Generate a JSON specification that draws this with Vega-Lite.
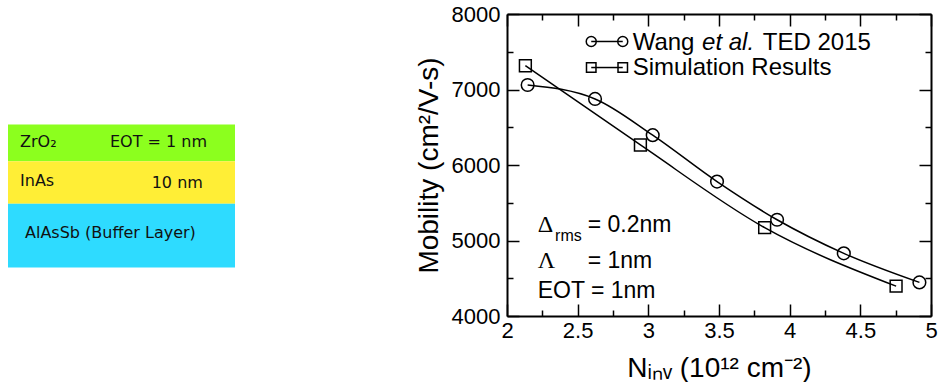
{
  "$schema": "https://vega.github.io/schema/vega-lite/v6.json",
  "background": "white",
  "padding": {"left": 8, "top": 3, "right": 5, "bottom": 0},
  "config": {"view": {"stroke": null}, "font": "Liberation Sans"},
  "datasets": {
    "layers": [
      {"layer": "ZrO2", "y0": 0, "y1": 25.7},
      {"layer": "InAs", "y0": 25.7, "y1": 55.5},
      {"layer": "AlAsSb", "y0": 55.5, "y1": 100}
    ],
    "layerText": [
      {"label": "ZrO₂", "x": 5.3, "y": 15.4},
      {"label": "EOT = 1 nm", "x": 44.9, "y": 15.4},
      {"label": "InAs", "x": 5.3, "y": 42.7},
      {"label": "10 nm", "x": 63.3, "y": 44.1},
      {"label": "AlAsSb (Buffer Layer)", "x": 7.5, "y": 79.7}
    ],
    "wang": [
      {"n": 2.146, "mu": 7060},
      {"n": 2.623, "mu": 6875},
      {"n": 3.031, "mu": 6395},
      {"n": 3.486, "mu": 5780},
      {"n": 3.911, "mu": 5275},
      {"n": 4.383, "mu": 4830},
      {"n": 4.918, "mu": 4445}
    ],
    "sim": [
      {"n": 2.13, "mu": 7315},
      {"n": 2.944, "mu": 6265},
      {"n": 3.823, "mu": 5170},
      {"n": 4.753, "mu": 4395}
    ],
    "legendWang": [
      {"n": 2.596, "mu": 7636},
      {"n": 2.819, "mu": 7636}
    ],
    "legendSim": [
      {"n": 2.596, "mu": 7291},
      {"n": 2.819, "mu": 7291}
    ],
    "legendText": [
      {"label": "Wang", "n": 2.889, "mu": 7523},
      {"label": "TED 2015", "n": 3.81, "mu": 7523},
      {"label": "Simulation Results", "n": 2.889, "mu": 7192}
    ],
    "legendItalic": [
      {"label": "et al.", "n": 3.38, "mu": 7523}
    ],
    "annot": [
      {"label": "= 0.2nm", "n": 2.571, "mu": 5117},
      {"label": "= 1nm", "n": 2.571, "mu": 4640},
      {"label": "EOT = 1nm", "n": 2.217, "mu": 4242}
    ],
    "greek": [
      {"label": "Δ", "n": 2.217, "mu": 5117},
      {"label": "Λ", "n": 2.217, "mu": 4640}
    ],
    "sub": [
      {"label": "rms", "n": 2.34, "mu": 4997}
    ]
  },
  "hconcat": [
    {
      "width": 227,
      "height": 147,
      "layer": [
        {
          "data": {"name": "layers"},
          "mark": {"type": "rect"},
          "encoding": {
            "x": {"datum": 0, "type": "quantitative", "scale": {"domain": [0, 100], "nice": false, "zero": false}, "axis": null},
            "x2": {"datum": 100},
            "y": {"field": "y0", "type": "quantitative", "scale": {"domain": [0, 102.8], "reverse": true, "nice": false, "zero": false}, "axis": null},
            "y2": {"field": "y1"},
            "color": {"field": "layer", "type": "nominal", "scale": {"domain": ["ZrO2", "InAs", "AlAsSb"], "range": ["#8CFF1E", "#FFEE36", "#2EDBFF"]}, "legend": null}
          }
        },
        {
          "data": {"name": "layerText"},
          "mark": {"type": "text", "align": "left", "baseline": "alphabetic", "font": "DejaVu Sans", "fontSize": 16, "color": "#111111"},
          "encoding": {
            "x": {"field": "x", "type": "quantitative"},
            "y": {"field": "y", "type": "quantitative"},
            "text": {"field": "label"}
          }
        }
      ]
    },
    {
      "width": 424,
      "height": 302,
      "resolve": {"axis": {"x": "independent", "y": "independent"}},
      "layer": [
        {
          "data": {"name": "wang"},
          "mark": {"type": "line", "interpolate": "monotone", "color": "black", "strokeWidth": 1.5},
          "encoding": {
            "x": {
              "field": "n", "type": "quantitative",
              "scale": {"domain": [2, 5], "nice": false, "zero": false},
              "axis": {
                "orient": "bottom", "values": [2, 2.5, 3, 3.5, 4, 4.5, 5],
                "tickSize": -12, "tickWidth": 1.5, "tickColor": "black",
                "domain": true, "domainColor": "black", "domainWidth": 2,
                "grid": false, "labelFlush": false, "labelOverlap": false,
                "labelPadding": 16, "labelFontSize": 22, "labelColor": "black", "labelFont": "Liberation Sans",
                "labelExpr": "datum.value",
                "title": "Nᵢₙᵥ (10¹² cm⁻²)", "titleFontSize": 28, "titleFontWeight": "normal", "titleColor": "black", "titleFont": "Liberation Sans", "titlePadding": 13
              }
            },
            "y": {
              "field": "mu", "type": "quantitative",
              "scale": {"domain": [4000, 8000], "nice": false, "zero": false},
              "axis": {
                "orient": "left", "values": [4000, 5000, 6000, 7000, 8000],
                "tickSize": -12, "tickWidth": 1.5, "tickColor": "black",
                "domain": true, "domainColor": "black", "domainWidth": 2,
                "grid": false, "labelFlush": false, "labelOverlap": false,
                "labelPadding": 19, "labelFontSize": 22, "labelColor": "black", "labelFont": "Liberation Sans",
                "labelExpr": "datum.value",
                "title": "Mobility (cm²/V-s)", "titleFontSize": 28, "titleFontWeight": "normal", "titleColor": "black", "titleFont": "Liberation Sans", "titlePadding": 8
              }
            }
          }
        },
        {
          "data": {"name": "wang"},
          "mark": {"type": "point", "shape": "circle", "size": 160, "filled": false, "color": "black", "strokeWidth": 1.5, "opacity": 1},
          "encoding": {
            "x": {"field": "n", "type": "quantitative", "axis": {"orient": "bottom", "values": [2.25, 2.75, 3.25, 3.75, 4.25, 4.75], "tickSize": -6, "tickWidth": 1.5, "tickColor": "black", "domain": false, "grid": false, "labels": false, "title": null}},
            "y": {"field": "mu", "type": "quantitative", "axis": {"orient": "left", "values": [4500, 5500, 6500, 7500], "tickSize": -6, "tickWidth": 1.5, "tickColor": "black", "domain": false, "grid": false, "labels": false, "title": null}}
          }
        },
        {
          "data": {"name": "sim"},
          "mark": {"type": "line", "interpolate": "monotone", "color": "black", "strokeWidth": 1.5},
          "encoding": {
            "x": {"field": "n", "type": "quantitative", "axis": {"orient": "top", "values": [2, 2.5, 3, 3.5, 4, 4.5, 5], "tickSize": -12, "tickWidth": 1.5, "tickColor": "black", "domain": true, "domainColor": "black", "domainWidth": 2, "grid": false, "labels": false, "title": null}},
            "y": {"field": "mu", "type": "quantitative", "axis": {"orient": "right", "values": [4000, 5000, 6000, 7000, 8000], "tickSize": -12, "tickWidth": 1.5, "tickColor": "black", "domain": true, "domainColor": "black", "domainWidth": 2, "grid": false, "labels": false, "title": null}}
          }
        },
        {
          "data": {"name": "sim"},
          "mark": {"type": "point", "shape": "square", "size": 140, "filled": false, "color": "black", "strokeWidth": 1.5, "opacity": 1},
          "encoding": {
            "x": {"field": "n", "type": "quantitative", "axis": {"orient": "top", "values": [2.25, 2.75, 3.25, 3.75, 4.25, 4.75], "tickSize": -6, "tickWidth": 1.5, "tickColor": "black", "domain": false, "grid": false, "labels": false, "title": null}},
            "y": {"field": "mu", "type": "quantitative", "axis": {"orient": "right", "values": [4500, 5500, 6500, 7500], "tickSize": -6, "tickWidth": 1.5, "tickColor": "black", "domain": false, "grid": false, "labels": false, "title": null}}
          }
        },
        {
          "data": {"name": "legendWang"},
          "mark": {"type": "line", "color": "black", "strokeWidth": 1.5},
          "encoding": {
            "x": {"field": "n", "type": "quantitative", "axis": null},
            "y": {"field": "mu", "type": "quantitative", "axis": null}
          }
        },
        {
          "data": {"name": "legendWang"},
          "mark": {"type": "point", "shape": "circle", "size": 100, "filled": false, "color": "black", "strokeWidth": 1.5, "opacity": 1},
          "encoding": {
            "x": {"field": "n", "type": "quantitative", "axis": null},
            "y": {"field": "mu", "type": "quantitative", "axis": null}
          }
        },
        {
          "data": {"name": "legendSim"},
          "mark": {"type": "line", "color": "black", "strokeWidth": 1.5},
          "encoding": {
            "x": {"field": "n", "type": "quantitative", "axis": null},
            "y": {"field": "mu", "type": "quantitative", "axis": null}
          }
        },
        {
          "data": {"name": "legendSim"},
          "mark": {"type": "point", "shape": "square", "size": 90, "filled": false, "color": "black", "strokeWidth": 1.5, "opacity": 1},
          "encoding": {
            "x": {"field": "n", "type": "quantitative", "axis": null},
            "y": {"field": "mu", "type": "quantitative", "axis": null}
          }
        },
        {
          "data": {"name": "legendText"},
          "mark": {"type": "text", "align": "left", "baseline": "alphabetic", "font": "Liberation Sans", "fontSize": 24, "color": "black"},
          "encoding": {
            "x": {"field": "n", "type": "quantitative", "axis": null},
            "y": {"field": "mu", "type": "quantitative", "axis": null},
            "text": {"field": "label"}
          }
        },
        {
          "data": {"name": "legendItalic"},
          "mark": {"type": "text", "align": "left", "baseline": "alphabetic", "font": "Liberation Sans", "fontSize": 24, "fontStyle": "italic", "color": "black"},
          "encoding": {
            "x": {"field": "n", "type": "quantitative", "axis": null},
            "y": {"field": "mu", "type": "quantitative", "axis": null},
            "text": {"field": "label"}
          }
        },
        {
          "data": {"name": "annot"},
          "mark": {"type": "text", "align": "left", "baseline": "alphabetic", "font": "Liberation Sans", "fontSize": 23, "color": "black"},
          "encoding": {
            "x": {"field": "n", "type": "quantitative", "axis": null},
            "y": {"field": "mu", "type": "quantitative", "axis": null},
            "text": {"field": "label"}
          }
        },
        {
          "data": {"name": "greek"},
          "mark": {"type": "text", "align": "left", "baseline": "alphabetic", "font": "Liberation Serif", "fontSize": 24, "color": "black"},
          "encoding": {
            "x": {"field": "n", "type": "quantitative", "axis": null},
            "y": {"field": "mu", "type": "quantitative", "axis": null},
            "text": {"field": "label"}
          }
        },
        {
          "data": {"name": "sub"},
          "mark": {"type": "text", "align": "left", "baseline": "alphabetic", "font": "Liberation Sans", "fontSize": 16, "color": "black"},
          "encoding": {
            "x": {"field": "n", "type": "quantitative", "axis": null},
            "y": {"field": "mu", "type": "quantitative", "axis": null},
            "text": {"field": "label"}
          }
        }
      ]
    }
  ],
  "spacing": 180,
  "center": true
}
